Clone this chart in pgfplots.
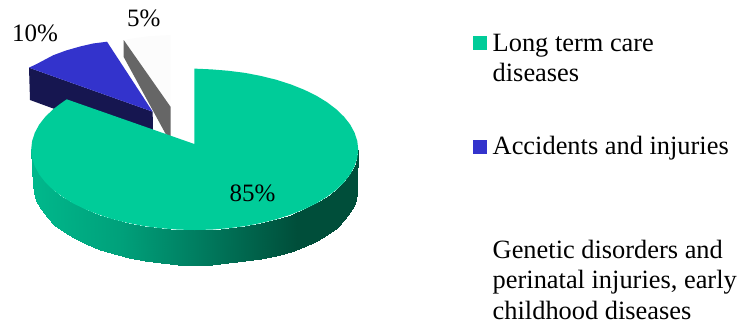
\documentclass[border=0pt]{standalone}
\usepackage{fontspec}
\setmainfont{Liberation Serif}
\usepackage{pgfplots}
\pgfplotsset{compat=1.18}
\definecolor{slicegreen}{RGB}{0,204,153}
\definecolor{sliceblue}{RGB}{51,51,204}
\definecolor{blueside}{RGB}{22,22,80}
\definecolor{greyside}{RGB}{102,102,102}
\definecolor{sliceoff}{RGB}{252,252,252}
\newcommand{\lab}{\fontsize{26.4}{30.5}\selectfont}
\newcommand{\val}{\fontsize{25}{30}\selectfont}
\begin{document}
\begin{tikzpicture}[x=1pt,y=1pt]
\useasboundingbox (0,0) rectangle (741,325);
\begin{axis}[
  at={(0,0)},anchor=south west,
  width=741pt,height=325pt,scale only axis,
  xmin=0,xmax=741,ymin=0,ymax=325,
  y dir=reverse,
  hide axis,clip=false,
  colormap={sidewall}{rgb255(0pt)=(0,184,140); rgb255(90pt)=(0,160,122); rgb255(165pt)=(0,125,96); rgb255(265pt)=(0,78,58); rgb255(325pt)=(0,78,58)},
  point meta min=32,point meta max=357,
]
% 5% slice: top face and cut wall
\addplot[fill=sliceoff,draw=none] coordinates {(123.7,40)(135,38)(150,36)(170.7,35)(170.7,107)} --cycle;
\addplot[fill=greyside,draw=none] coordinates {(123.7,40)(170.7,107)(170.7,137)(165.7,134)(123.7,57)} --cycle;
% 10% slice: wall, then top face
\addplot[fill=blueside,draw=none] coordinates {(29,67.7)(152.7,111.7)(153,145)(30,100)} --cycle;
\addplot[fill=sliceblue,draw=none] coordinates {(29,67.7)(38,63.3)(53.3,55.2)(66,50.5)(80,46.5)(93,43.5)(107,41.7)(152.7,111.7)} --cycle;
% 85% slice: rim with its shading, then top face
\addplot[surf,shader=interp,mesh/rows=2,mesh/cols=31,point meta=x] coordinates {
(358.2,149.5)(357.3,157.9)(354.6,166.2)(350.2,174.4)(344.1,182.2)(336.3,189.8)(327,196.8)(316.2,203.4)
(304.1,209.3)(290.8,214.6)(276.5,219.2)(261.2,223)(245.2,226.1)(228.7,228.2)(211.8,229.6)(194.7,230)
(177.6,229.6)(160.7,228.2)(144.2,226.1)(128.2,223)(112.9,219.2)(98.6,214.6)(85.3,209.3)(73.2,203.4)
(62.4,196.8)(53.1,189.8)(45.3,182.2)(39.2,174.4)(34.8,166.2)(32.1,157.9)(31.2,149.5)
(357.2,184.5)(356.8,194.4)(354.6,203.7)(350.4,212.4)(344.4,220.2)(336.8,227.8)(327.4,234.8)(316.6,241.2)
(304.3,246.8)(290.6,251.6)(276.1,255.6)(260.8,258.8)(244.8,261.4)(228.4,263.3)(211.6,264.6)(194.7,265)
(177.8,264.6)(161,263.2)(144.6,261.1)(128.8,258)(113.7,254.2)(99.5,249.6)(86.3,244.3)(74.3,238.4)
(63.6,231.8)(54.4,224.8)(46.7,217.2)(40.6,209.4)(36.2,201.2)(33.6,192.9)(32.7,184.5)
};
\addplot[fill=slicegreen,draw=none] coordinates {
(194.3,144)(194.3,68.6)(211.8,69.4)(228.7,70.8)(245.2,72.9)(261.2,76)(276.5,79.8)(290.8,84.4)(304.1,89.7)
(316.2,95.6)(327,102.2)(336.3,109.3)(344.1,116.8)(350.2,124.6)(354.6,132.8)(357.3,141.1)(358.2,149.5)
(357.3,157.9)(354.6,166.2)(350.2,174.4)(344.1,182.2)(336.3,189.8)(327,196.8)(316.2,203.4)(304.1,209.3)
(290.8,214.6)(276.5,219.2)(261.2,223)(245.2,226.1)(228.7,228.2)(211.8,229.6)(194.7,230)(177.6,229.6)
(160.7,228.2)(144.2,226.1)(128.2,223)(112.9,219.2)(98.6,214.6)(85.3,209.3)(73.2,203.4)(62.4,196.8)
(53.1,189.8)(45.3,182.2)(39.2,174.4)(34.8,166.2)(32.1,157.9)(31.2,149.5)(32.1,141.1)(34.8,132.8)
(39.2,124.6)(45.3,116.8)(53.1,109.3)(60,104)(66.7,99.3)} --cycle;
% legend keys
\addplot[fill=slicegreen,draw=none] coordinates {(473.3,36)(487,36)(487,50)(473.3,50)} --cycle;
\addplot[fill=sliceblue,draw=none] coordinates {(473.3,140)(487,140)(487,154)(473.3,154)} --cycle;
% value labels
\node[anchor=base west,inner sep=0pt,font=\val] at (axis cs:12,41.7) {10\%};
\node[anchor=base west,inner sep=0pt,font=\val] at (axis cs:127,26) {5\%};
\node[anchor=base west,inner sep=0pt,font=\val] at (axis cs:229.5,201.7) {85\%};
% legend text
\node[anchor=base west,inner sep=0pt,font=\lab] at (axis cs:492.5,51.7) {Long term care};
\node[anchor=base west,inner sep=0pt,font=\lab] at (axis cs:492.5,81.7) {diseases};
\node[anchor=base west,inner sep=0pt,font=\lab] at (axis cs:492.5,154.3) {Accidents and injuries};
\node[anchor=base west,inner sep=0pt,font=\lab] at (axis cs:492.5,258) {Genetic disorders and};
\node[anchor=base west,inner sep=0pt,font=\lab] at (axis cs:492.5,288) {perinatal injuries, early};
\node[anchor=base west,inner sep=0pt,font=\lab] at (axis cs:492.5,319) {childhood diseases};
\end{axis}
\end{tikzpicture}
\end{document}
